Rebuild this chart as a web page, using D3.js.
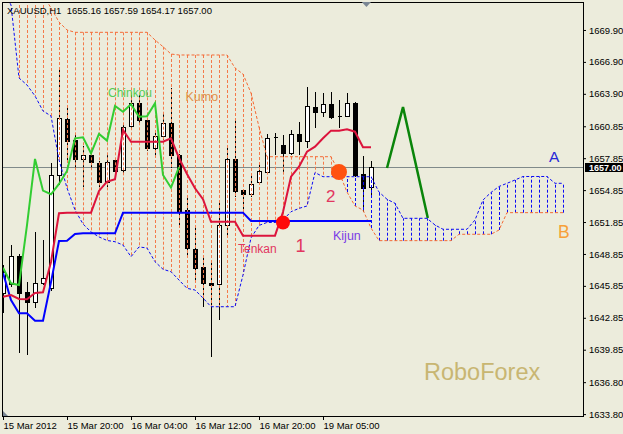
<!DOCTYPE html>
<html><head><meta charset="utf-8">
<script src="https://cdn.jsdelivr.net/npm/d3@7"></script>
<style>
html,body{margin:0;padding:0;background:#ECECDC;}
svg{display:block;}
text{font-family:"Liberation Sans",Arial,sans-serif;}
</style></head><body>
<svg id="c" width="623" height="434"></svg>
<script>
// ---- DATA (XAUUSD H1) ----
const opens  = [1645.18,1646.02,1648.66,1645.25,1644.31,1646.09,1645.62,1656.27,1661.54,1659.56,1657.81,1658.12,1657.37,1655.64,1657.68,1656.74,1660.88,1663.07,1661.44,1658.78,1659.94,1661.19,1658.15,1652.98,1649.28,1647.60,1646.09,1645.99,1651.57,1657.78,1654.86,1654.46,1655.64,1656.53,1659.84,1659.09,1658.31,1660.13,1659.50,1662.64,1662.22,1662.95,1661.84,1661.82,1663.01,1656.37,1655.16];
const highs  = [1647.80,1649.69,1648.80,1646.24,1650.94,1650.16,1657.37,1666.14,1662.70,1660.03,1658.99,1658.30,1657.60,1658.15,1657.90,1661.10,1663.79,1663.80,1661.60,1660.30,1662.22,1664.42,1658.20,1654.23,1651.26,1648.66,1648.12,1653.76,1658.93,1661.60,1655.00,1656.43,1657.20,1660.10,1660.19,1660.03,1660.50,1661.28,1664.57,1664.10,1663.95,1664.10,1663.32,1663.95,1663.10,1658.06,1657.59];
const lows   = [1643.30,1645.74,1639.54,1639.35,1643.74,1645.90,1645.40,1655.33,1657.37,1656.74,1655.17,1656.74,1655.17,1655.17,1656.30,1656.27,1660.50,1661.13,1658.50,1657.84,1659.60,1656.93,1651.57,1648.59,1646.09,1643.90,1639.20,1642.64,1650.32,1654.23,1652.67,1654.20,1655.50,1656.43,1658.15,1656.58,1658.15,1658.15,1658.78,1660.66,1661.75,1661.50,1660.66,1661.70,1656.10,1652.80,1654.17];
const closes = [1647.15,1648.66,1645.21,1644.31,1646.09,1646.56,1656.27,1661.60,1659.50,1657.75,1658.12,1657.47,1655.64,1657.52,1656.68,1660.81,1663.01,1661.44,1658.78,1659.97,1661.19,1658.15,1652.92,1649.38,1647.56,1646.09,1645.93,1651.57,1657.78,1654.80,1654.46,1655.43,1656.65,1659.72,1659.82,1658.31,1660.13,1659.50,1662.76,1662.22,1662.92,1661.75,1661.80,1663.01,1656.27,1655.08,1657.00];
const tenkan = [1644.83,1644.99,1644.62,1644.59,1645.18,1645.25,1648.10,1652.67,1652.73,1652.73,1652.73,1652.73,1654.77,1655.64,1655.87,1660.50,1659.40,1659.40,1659.40,1659.40,1659.40,1659.72,1657.87,1656.37,1655.02,1653.99,1651.88,1651.88,1651.88,1651.88,1650.57,1650.57,1650.57,1650.57,1650.57,1652.79,1656.11,1657.05,1658.46,1658.93,1659.72,1660.44,1660.44,1660.57,1660.34,1658.88,1658.88];
const kijun  = [1647.06,1644.52,1643.27,1643.27,1642.58,1642.58,1646.20,1650.07,1650.10,1650.73,1650.79,1650.79,1650.79,1650.79,1650.79,1652.73,1652.73,1652.73,1652.73,1652.73,1652.73,1652.73,1652.73,1652.73,1652.73,1652.73,1652.73,1652.73,1652.73,1652.73,1652.73,1651.95,1651.95,1651.95,1651.95,1651.95,1651.95,1651.95,1651.95,1651.95,1651.95,1651.95,1651.95,1651.95,1651.95,1651.95,1651.95];
const senkouA = [1673.66,1672.25,1665.39,1664.73,1663.70,1662.29,1661.82,1657.70,1655.05,1652.98,1651.67,1650.92,1650.45,1650.12,1650.00,1649.69,1648.59,1649.51,1649.41,1648.12,1647.41,1647.18,1646.40,1645.62,1645.46,1644.71,1643.89,1643.89,1643.89,1643.89,1646.87,1650.35,1651.53,1651.81,1651.81,1652.04,1652.82,1653.13,1653.36,1656.50,1656.11,1656.11,1656.11,1656.11,1656.11,1656.11,1656.11,1654.67,1653.99,1653.61,1652.20,1652.20,1652.20,1652.20,1651.57,1651.17,1651.17,1651.17,1651.17,1652.04,1653.92,1654.63,1655.19,1655.49,1655.80,1656.13,1656.13,1656.13,1656.13,1655.49,1655.49];
const senkouB = [1674.60,1674.60,1674.60,1674.60,1674.60,1673.19,1671.97,1670.65,1669.90,1669.68,1669.68,1669.68,1669.68,1669.68,1669.68,1669.68,1669.68,1669.68,1669.68,1668.96,1668.33,1667.64,1667.55,1667.55,1667.55,1667.55,1667.55,1667.55,1667.55,1666.33,1665.76,1663.98,1660.78,1657.99,1657.99,1657.99,1657.99,1657.99,1657.99,1657.99,1657.99,1657.99,1656.55,1654.67,1653.36,1652.98,1651.29,1650.10,1650.10,1650.10,1650.10,1650.10,1650.10,1650.10,1650.10,1650.10,1650.10,1650.70,1650.70,1650.70,1650.70,1650.70,1651.10,1652.73,1652.73,1652.73,1652.73,1652.73,1652.73,1652.73,1652.73];
const chinkouShift = 24;
const priceTicks = [1669.90,1666.90,1663.90,1660.85,1657.85,1654.85,1651.85,1648.85,1645.85,1642.85,1639.85,1636.80,1633.80];
const timeTickBars = [0,8,16,24,32,40];
const timeLabels = ["15 Mar 2012","15 Mar 20:00","16 Mar 04:00","16 Mar 12:00","16 Mar 20:00","19 Mar 05:00"];
const lastPrice = 1657.00;
const zigzagBars = [48,50,53.1];
const zigzagPrices = [1656.93,1662.66,1652.23];
const markBars = [35,42];
const markPrices = [1651.81,1656.55];

// ---- SCALES ----
const svg = d3.select("#c");
const L=3,R=583,T=2,B=416;
const x = d3.scaleLinear().domain([0,72.5]).range([L,R]);
const y = d3.scaleLinear().domain([1633.62,1672.53]).range([B,T]);

svg.append("rect").attr("width",623).attr("height",434).attr("fill","#ECECDC");
svg.append("clipPath").attr("id","clip").append("rect").attr("x",L).attr("y",T).attr("width",R-L).attr("height",B-T);
const g = svg.append("g").attr("clip-path","url(#clip)");

// price line
g.append("line").attr("x1",L).attr("x2",R)
  .attr("y1",Math.round(y(lastPrice))+0.5).attr("y2",Math.round(y(lastPrice))+0.5)
  .attr("stroke","#808a8a").attr("stroke-width",1);

// candles
const cd = opens.map((o,i)=>({i,o,h:highs[i],l:lows[i],c:closes[i]}));
const cg = g.append("g").attr("shape-rendering","crispEdges");
cg.selectAll("line").data(cd).join("line")
  .attr("x1",d=>x(d.i)+0.5).attr("x2",d=>x(d.i)+0.5)
  .attr("y1",d=>Math.round(y(d.h))).attr("y2",d=>Math.round(y(d.l)))
  .attr("stroke","#000");
cg.selectAll("path").data(cd).join("path")
  .attr("d",d=>{
    const t=Math.round(y(Math.max(d.o,d.c)))+0.5, b=Math.round(y(Math.min(d.o,d.c)))+0.5;
    const x0=x(d.i)-1.5;
    return `M${x0},${t}H${x0+4}V${b}H${x0}Z`;
  })
  .attr("fill",d=>d.c>=d.o?"#fff":"#000").attr("stroke","#000");

// kumo hatch (one path per colour)
const orange="#F56A35", hatchOrange="#F47A4A", blue="#0A0AF5";
let pO="", pB="";
senkouA.forEach((a,i)=>{
  const b=senkouB[i], xx=x(i)+0.5;
  const seg=`M${xx},${y(b).toFixed(1)}V${y(a).toFixed(1)}`;
  if(b>a) pO+=seg; else pB+=seg;
});
g.append("path").attr("d",pO).attr("fill","none").style("stroke",hatchOrange).style("stroke-width","1px").style("stroke-dasharray","3 2");
g.append("path").attr("d",pB).attr("fill","none").style("stroke",blue).style("stroke-width","1px").style("stroke-dasharray","3 2");

const ln = d3.line().x((d,i)=>x(i)).y(d=>y(d));
g.append("path").attr("d",ln(senkouB)).attr("fill","none").style("stroke",orange).style("stroke-dasharray","3 2");
g.append("path").attr("d",ln(senkouA)).attr("fill","none").style("stroke",blue).style("stroke-dasharray","3 2");

// tenkan / kijun / chinkou
g.append("path").attr("d",ln(kijun)).attr("fill","none").attr("stroke","#0000FF").attr("stroke-width",2);
g.append("path").attr("d",ln(tenkan)).attr("fill","none").attr("stroke","#DC143C").attr("stroke-width",2);
g.append("path").attr("d",ln(closes.slice(chinkouShift))).attr("fill","none").attr("stroke","#32CD32").attr("stroke-width",2);

// annotations
const zz = zigzagBars.map((b,i)=>[x(b),y(zigzagPrices[i])]);
g.append("path").attr("d",d3.line()(zz)).attr("fill","none").attr("stroke","#0A850A").attr("stroke-width",2.5);
g.append("circle").attr("cx",x(markBars[0])).attr("cy",y(markPrices[0])).attr("r",7).attr("fill","#FF0A0A");
g.append("circle").attr("cx",x(markBars[1])).attr("cy",y(markPrices[1])).attr("r",8).attr("fill","#FF5210");

const txt=(s,px,py,size,col)=>svg.append("text").attr("x",px).attr("y",py).attr("font-size",size).attr("fill",col).text(s);
txt("Chinkou",108,97,12,"#55CC55");
txt("Kumo",185.5,101,12.5,"#E0914B");
txt("Tenkan",238,253,12,"#E2365F");
txt("1",295.5,251.5,18,"#E2365F");
txt("2",326,201.5,17,"#E2365F");
txt("Kijun",333,239.5,12.5,"#7B3CE6");
txt("A",549,161.5,15.5,"#2828D8");
txt("B",558,237.5,17.5,"#F7A038");
txt("RoboForex",424,379.5,23.5,"#C8B672");

// title
svg.append("text").attr("x",7).attr("y",14).attr("font-size",9.5).attr("fill","#000")
  .style("white-space","pre").text("XAUUSD,H1  1655.16 1657.59 1654.17 1657.00");

// frame
svg.append("rect").attr("x",L-0.5).attr("y",T+0.5).attr("width",R-L+1).attr("height",B-T)
  .attr("fill","none").attr("stroke","#000").attr("shape-rendering","crispEdges");

// axes
const fmt=d3.format(".2f");
const ay = svg.append("g").attr("transform",`translate(${R},0)`)
  .call(d3.axisRight(y).tickValues(priceTicks).tickFormat(fmt).tickSize(3).tickPadding(3));
ay.select(".domain").remove();
ay.selectAll("text").attr("font-size",9.5).attr("font-family","Liberation Sans, Arial, sans-serif").attr("fill","#000");
ay.selectAll("line").attr("stroke","#000");

const ax = svg.append("g").attr("transform",`translate(0,${B})`)
  .call(d3.axisBottom(x).tickValues(timeTickBars).tickFormat((d,i)=>timeLabels[i]).tickSize(4));
ax.select(".domain").remove();
ax.selectAll("text").attr("font-size",9.5).attr("font-family","Liberation Sans, Arial, sans-serif")
  .attr("fill","#000").attr("text-anchor","start").attr("dy",0).attr("y",13);
ax.selectAll("line").attr("stroke","#000");

// last price box
const py = Math.round(y(lastPrice));
svg.append("rect").attr("x",585).attr("y",py-4).attr("width",38).attr("height",9).attr("fill","#000");
svg.append("text").attr("x",589).attr("y",py+3.5).attr("font-size",9).attr("font-weight","bold").attr("fill","#fff").text(fmt(lastPrice));

// markers
svg.append("path").attr("d",`M${x(44.85)},${T}L${x(46)},${T}L${x(45.43)},${T+5}Z`).attr("fill","#7B8794");
svg.append("path").attr("d",`M${L},${B-5}L${L},${B}L${L+5},${B}Z`).attr("fill","#7B8794");
</script>
</body></html>
